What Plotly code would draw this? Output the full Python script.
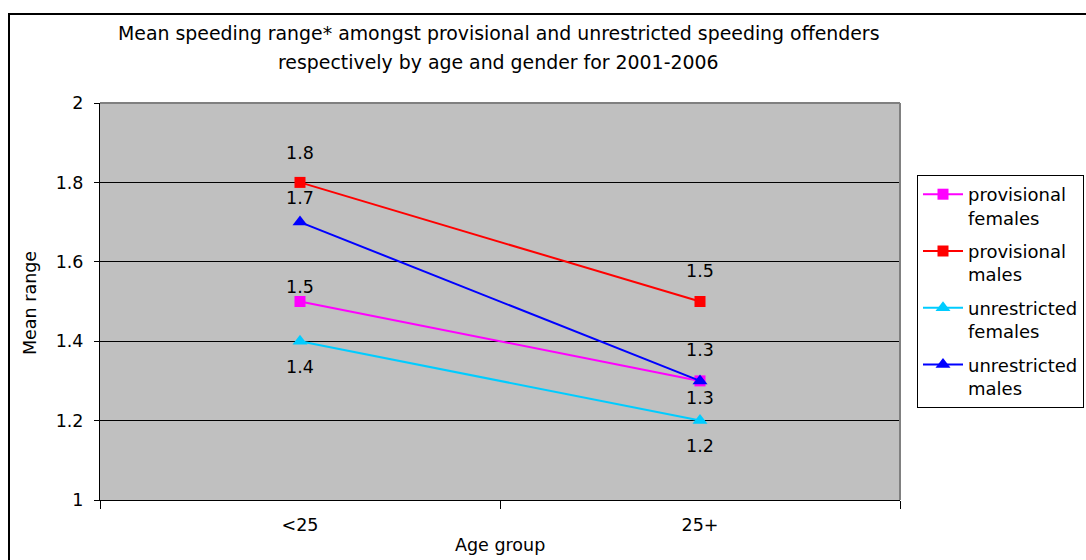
import plotly.graph_objects as go

# Mean speeding range by licence type, gender and age group (2001-2006)
age_groups = ["<25", "25+"]
series_names = ["provisional females", "provisional males",
                "unrestricted females", "unrestricted males"]
provisional_females = [1.5, 1.3]
provisional_males = [1.8, 1.5]
unrestricted_females = [1.4, 1.2]
unrestricted_males = [1.7, 1.3]
y_ticks = [1, 1.2, 1.4, 1.6, 1.8, 2]

FONT = "DejaVu Sans"
FS = 17.5
series = [
    (series_names[0], provisional_females, "#FF00FF", "square", 11),
    (series_names[1], provisional_males, "#FF0000", "square", 11),
    (series_names[2], unrestricted_females, "#00CCFF", "triangle-up", 13),
    (series_names[3], unrestricted_males, "#0000FF", "triangle-up", 13),
]
# vertical offset (px) of each value label from its marker
label_shift = {
    series_names[0]: [15, 31],
    series_names[1]: [29, 31],
    series_names[2]: [-26, -25],
    series_names[3]: [24, -17],
}

fig = go.Figure()
annotations = []
for name, values, color, symbol, size in series:
    words = name.split(" ")
    fig.add_trace(go.Scatter(
        x=age_groups, y=values, name=words[0] + "<br>" + words[1],
        legendgroup=name,
        mode="lines+markers",
        line=dict(color=color, width=2),
        marker=dict(symbol=symbol, size=size, color=color,
                    line=dict(width=0)),
    ))
    for xi, yi, dy in zip(age_groups, values, label_shift[name]):
        annotations.append(dict(
            x=xi, y=yi, xref="x", yref="y", text=f"{yi:.1f}",
            showarrow=False, yshift=dy,
            font=dict(family=FONT, size=FS, color="black"),
        ))

# chart title, two lines
title_lines = ["Mean speeding range* amongst provisional and unrestricted speeding offenders",
               "respectively by age and gender for 2001-2006"]
for i, line in enumerate(title_lines):
    annotations.append(dict(
        x=(498 - 100) / 800, y=(500 - (33 + 29 * i)) / 397,
        xref="paper", yref="paper", text=line, showarrow=False,
        xanchor="center", yanchor="middle",
        font=dict(family=FONT, size=18.9, color="black"),
    ))

annotations.append(dict(
    x=(30 - 100) / 800, y=(500 - 303) / 397, xref="paper", yref="paper",
    text="Mean range", textangle=-90, showarrow=False,
    xanchor="center", yanchor="middle",
    font=dict(family=FONT, size=FS, color="black"),
))
annotations.append(dict(
    x=0.5, y=(500 - 545) / 397, xref="paper", yref="paper",
    text="Age group", showarrow=False,
    xanchor="center", yanchor="middle",
    font=dict(family=FONT, size=FS, color="black"),
))

shapes = [
    # outer chart frame
    dict(type="rect", xref="paper", yref="paper",
         x0=(9 - 100) / 800, x1=(1100 - 100) / 800,
         y0=(500 - 580) / 397, y1=(500 - 14) / 397,
         line=dict(color="black", width=2), layer="below"),
    # plot-area top and right edges
    dict(type="line", xref="paper", yref="paper", x0=0, x1=1, y0=1, y1=1,
         line=dict(color="#808080", width=2)),
    dict(type="line", xref="paper", yref="paper", x0=1, x1=1, y0=0, y1=1,
         line=dict(color="#808080", width=2)),
]

fig.update_layout(
    width=1086, height=560,
    margin=dict(l=100, r=186, t=103, b=60, autoexpand=False),
    paper_bgcolor="white", plot_bgcolor="#C0C0C0",
    font=dict(family=FONT, size=FS, color="black"),
    showlegend=True,
    legend=dict(
        x=(917 - 100) / 800, y=(500 - 175) / 397,
        xanchor="left", yanchor="top",
        bgcolor="white", bordercolor="black", borderwidth=1,
        font=dict(family=FONT, size=18, color="black"),
        valign="top", tracegroupgap=7, itemwidth=40,
    ),
    annotations=annotations,
    shapes=shapes,
)
fig.update_xaxes(
    type="category", range=[-0.5, 1.5],
    showgrid=False, showline=True, linecolor="black", linewidth=1,
    ticks="outside", tickson="boundaries", ticklen=8, tickcolor="black",
    tickfont=dict(family=FONT, size=FS), ticklabelstandoff=9,
    zeroline=False,
)
fig.update_yaxes(
    range=[1, 2], tickvals=y_ticks, ticktext=[f"{v:g}" for v in y_ticks],
    showgrid=True, gridcolor="black", gridwidth=1,
    showline=True, linecolor="black", linewidth=1,
    ticks="outside", ticklen=5, tickcolor="black",
    tickfont=dict(family=FONT, size=FS), ticklabelstandoff=7,
    zeroline=False,
)

fig.write_html("out.html")
